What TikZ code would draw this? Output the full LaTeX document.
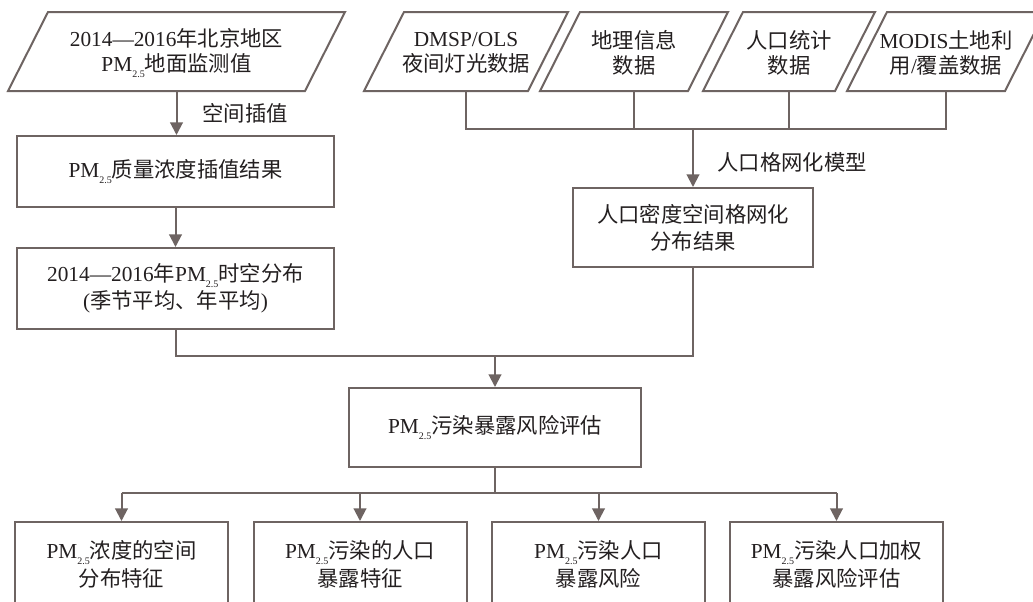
\documentclass[tikz,border=0pt]{standalone}
\usepackage{fontspec}
\setmainfont{Liberation Serif}
\newfontfamily\cjk{Noto Sans CJK SC}
\usetikzlibrary{arrows.meta}
\definecolor{lc}{RGB}{110,100,98}
\definecolor{tc}{RGB}{35,31,32}
\newcommand\zh[1]{{\cjk #1}}
\newcommand\pmt{PM\raisebox{-4.5pt}{\fontsize{7.5}{7.5}\selectfont 2.5}}
\newcommand\para[4]{%
  \draw[ln] ({#2-#3+20},12) -- ({#2+#3+20},12) -- ({#2+#3-20},91) -- ({#2-#3-20},91) -- cycle;
  \node[txt,font=\fontsize{16}{19}\selectfont] (#1) at (#2,53) {#4};
  \coordinate (#1-b) at (#2,91);
}
\begin{document}
\begin{tikzpicture}[x=0.75pt,y=-0.75pt,
  ln/.style={draw=lc,line width=1.5pt},
  arr/.style={ln,-{Triangle[width=9.5pt,length=9.5pt]}},
  txt/.style={text=tc,font=\fontsize{16}{20.5}\selectfont,align=center,inner sep=0pt},
  box/.style={txt,ln,rectangle},
  low/.style={box,anchor=north,minimum width=159.75pt,minimum height=63.75pt}]
\clip (0,0) rectangle (1033,601);
\fill[white] (0,0) rectangle (1033,601);

% input parallelograms
\para{p0}{176.5}{148.5}{2014—2016\zh{年北京地区}\\\pmt\zh{地面监测值}}
\para{p1}{466}{82}{DMSP/OLS\\\zh{夜间灯光数据}}
\para{p2}{634}{74}{\zh{地理信息}\\\zh{数据}}
\para{p3}{789}{66}{\zh{人口统计}\\\zh{数据}}
\para{p4}{946}{79}{MODIS\zh{土地利}\\\zh{用}/\zh{覆盖数据}}

% boxes
\node[box,minimum width=237.75pt,minimum height=53.25pt] (b2) at (175.5,171.5) {\pmt\zh{质量浓度插值结果}};
\node[box,minimum width=237.75pt,minimum height=60.75pt] (b3) at (175.5,288.5) {2014—2016\zh{年}\pmt\zh{时空分布}\\(\zh{季节平均、年平均})};
\node[box,minimum width=180pt,minimum height=59.25pt] (pd) at (693,227.5) {\zh{人口密度空间格网化}\\\zh{分布结果}};
\node[box,minimum width=219pt,minimum height=59.25pt] (c) at (495,427.5) {\pmt\zh{污染暴露风险评估}};
\node[low] (d1) at (121.5,521) {\pmt\zh{浓度的空间}\\\zh{分布特征}};
\node[low] (d2) at (360,521) {\pmt\zh{污染的人口}\\\zh{暴露特征}};
\node[low] (d3) at (598.5,521) {\pmt\zh{污染人口}\\\zh{暴露风险}};
\node[low] (d4) at (836.5,521) {\pmt\zh{污染人口加权}\\\zh{暴露风险评估}};

% labels
\node[txt] (l1) at (245,113) {\zh{空间插值}};
\node[txt] (l2) at (792,162) {\zh{人口格网化模型}};

% junctions
\coordinate (ht) at (693,129);
\coordinate (jc) at (495,356);
\coordinate (hb) at (495,493);

% connectors
\draw[arr] (p0-b) -- (p0-b |- b2.north);
\draw[arr] (b2.south) -- (b3.north);
\draw[ln] (p1-b) |- (ht) -| (p4-b);
\draw[ln] (p2-b) -- (p2-b |- ht);
\draw[ln] (p3-b) -- (p3-b |- ht);
\draw[arr] (ht) -- (pd.north);
\draw[ln] (b3.south) |- (jc);
\draw[ln] (pd.south) |- (jc);
\draw[arr] (jc) -- (c.north);
\draw[ln] (c.south) -- (hb);
\draw[ln] (d1.north |- hb) -- (d4.north |- hb);
\draw[arr] (d1.north |- hb) -- (d1.north);
\draw[arr] (d2.north |- hb) -- (d2.north);
\draw[arr] (d3.north |- hb) -- (d3.north);
\draw[arr] (d4.north |- hb) -- (d4.north);
\end{tikzpicture}
\end{document}
